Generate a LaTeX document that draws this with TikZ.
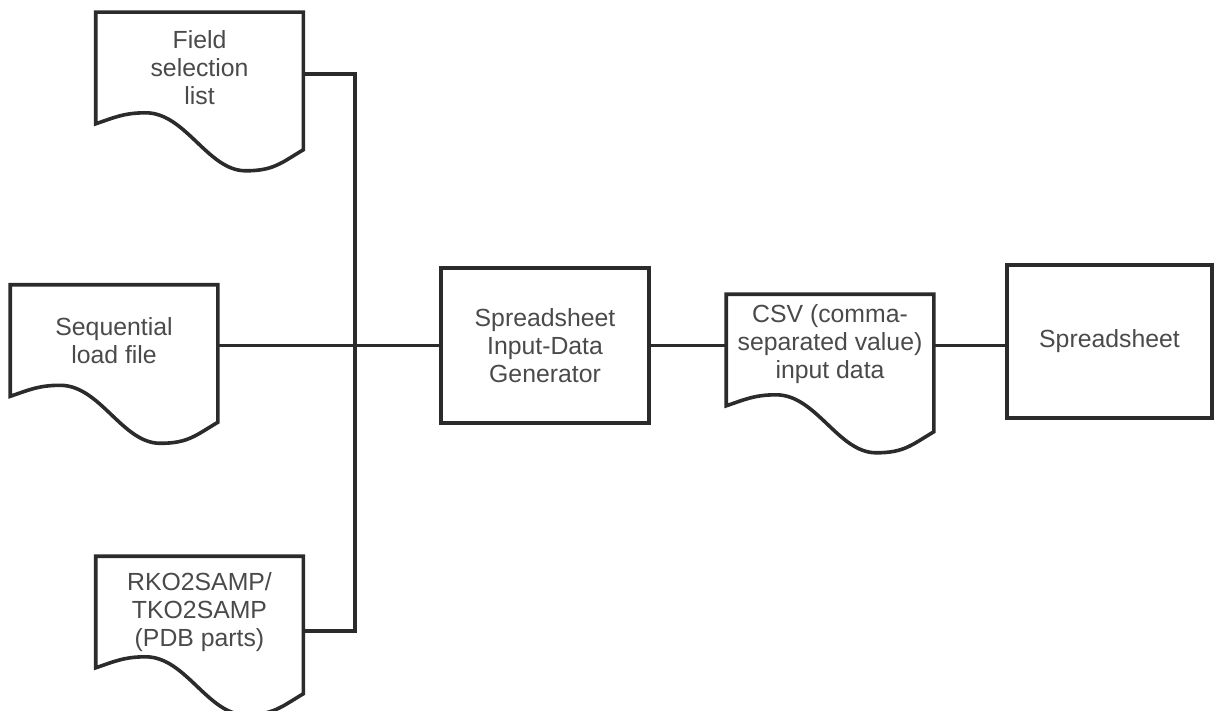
\documentclass[tikz,border=0pt]{standalone}
\usepackage{fontspec}
\setmainfont{Liberation Sans}
\usetikzlibrary{positioning,calc}

\definecolor{linegray}{HTML}{2B2B2B}
\definecolor{textgray}{HTML}{4A4A4A}

\begin{document}
\begin{tikzpicture}[x=0.5pt,y=-0.5pt,line width=1.8pt,
  every node/.style={align=center,text=textgray,font=\fontsize{12.4}{14}\selectfont},
  doc/.style={minimum width=102pt,minimum height=54pt,inner sep=0pt},
  box/.style={draw=linegray,inner sep=0pt},
  wire/.style={draw=linegray}]

\useasboundingbox (0,0) rectangle (1214,711);

\node[doc] (field) at (199.5,68) {Field\\selection\\list};
\node[doc] (seq) at (114,340.5) {Sequential\\load file};
\node[doc] (rko) at (199.5,612) {RKO2SAMP/\\TKO2SAMP\\(PDB parts)};
\node[box,minimum width=104pt,minimum height=77.5pt] (gen) at (545,345.5) {Spreadsheet\\Input-Data\\Generator};
\node[doc] (csv) at (830,350) {};
\node at (830,344) {CSV (comma-\\separated value)\\input data};
\node[box,minimum width=102.5pt,minimum height=76.5pt] (sheet) at (1109.5,341.5) {Spreadsheet};

% document outlines
\foreach \d in {field,seq,rko,csv}
	\draw[wire,line join=miter] (\d.south west) -- (\d.north west) -- (\d.north east) -- ($(\d.south east)+(0,26)$)
	  .. controls +(-22,13) and +(28,0) .. ($(\d.south west)+(150,47)$)
	  .. controls +(-38,0) and +(40,0) .. ($(\d.south west)+(50,-11)$)
	  .. controls +(-22,0) and +(18,-6) .. (\d.south west) -- cycle;

\coordinate (j1) at (355,74);
\coordinate (j3) at (355,631);

\draw[wire] (field.east |- j1) -- (j1) -- (j3) -- (rko.east |- j3);
\draw[wire] (seq.east |- gen.west) -- (gen.west);
\draw[wire] (gen.east) -- (gen.east -| csv.west);
\draw[wire] (csv.east |- gen.east) -- (sheet.west |- gen.east);

\end{tikzpicture}
\end{document}
